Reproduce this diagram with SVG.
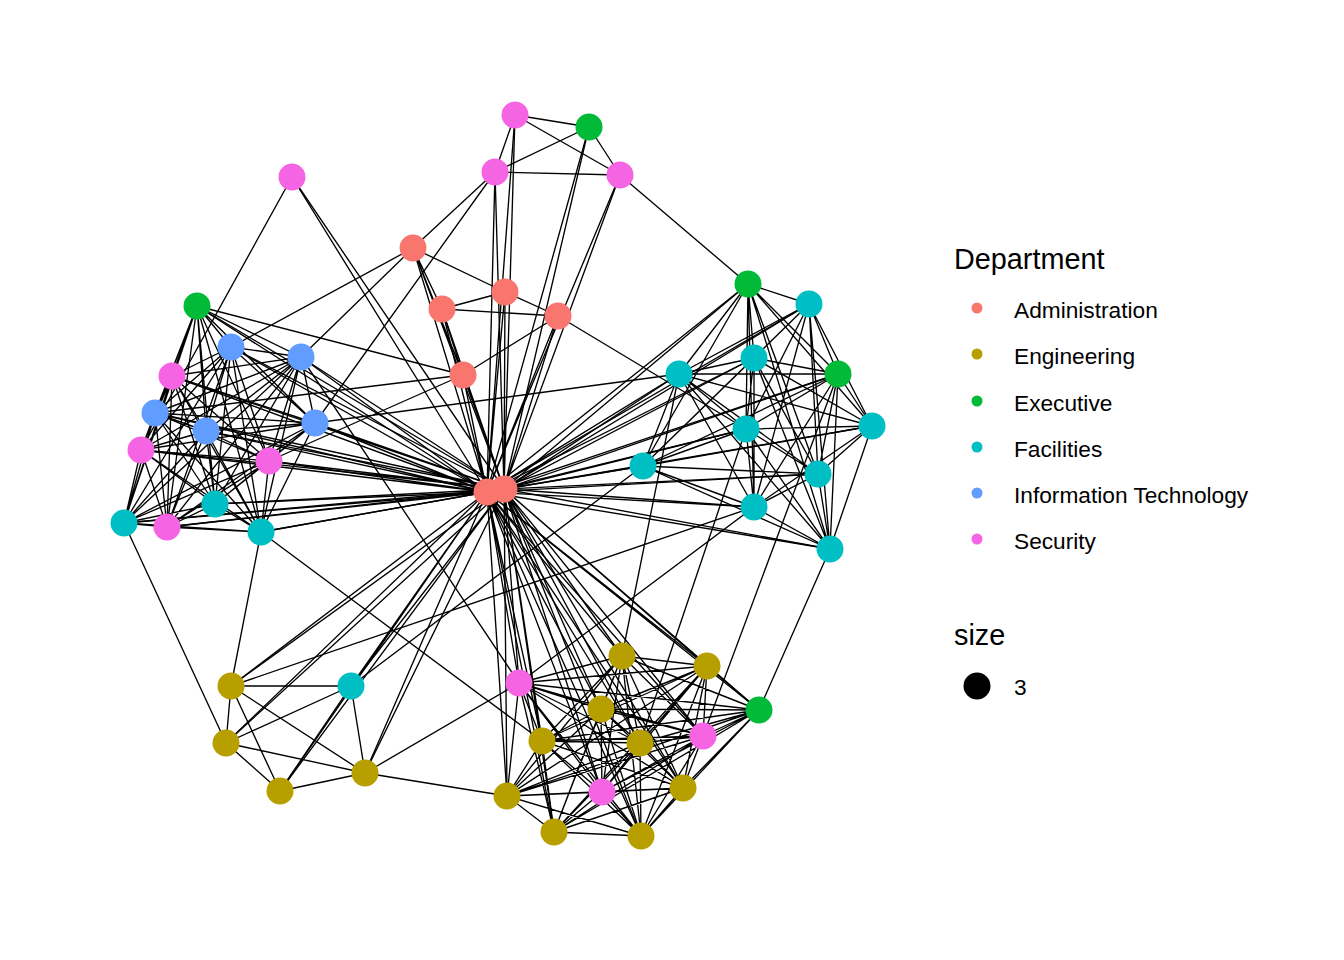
<svg xmlns="http://www.w3.org/2000/svg" width="1344" height="960" viewBox="0 0 1344 960">
<style>
.e{fill:none;stroke:#000;stroke-width:1.35}
.adm{fill:#F8766D}.eng{fill:#B79F00}.exe{fill:#00BA38}.fac{fill:#00BFC4}.it{fill:#619CFF}.sec{fill:#F564E3}
.lt{font-family:"Liberation Sans",Arial,sans-serif;font-size:22.7px;fill:#000}
.tt{font-family:"Liberation Sans",Arial,sans-serif;font-size:28.8px;fill:#000}
</style>
<rect width="1344" height="960" fill="#fff"/>
<g id="connectors">
<path class="e" id="hubA6" d="M487 492L197 306M487 492L231 347M487 492L301 357M487 492L172 376M487 492L155 413M487 492L206 431M487 492L315 423M487 492L141 450M487 492L269 461M487 492L215 504M487 492L124 523M487 492L167 527M487 492L261 532M487 492L515 115M487 492L495 172M487 492L589 127M487 492L620 175M487 492L292 177M487 492L413 248M487 492L442 309M487 492L505 292M487 492L558 316M487 492L463 375M487 492L748 284M487 492L809 304M487 492L679 374M487 492L754 358M487 492L838 374M487 492L746 429M487 492L643 466M487 492L818 474M487 492L754 507M487 492L830 549M487 492L231 686M487 492L351 686M487 492L226 743M487 492L280 791M487 492L365 773M487 492L519 683M487 492L622 656M487 492L707 666M487 492L759 710M487 492L601 709M487 492L542 741M487 492L640 743M487 492L703 736M487 492L507 796M487 492L602 792M487 492L683 788M487 492L554 832M487 492L641 836M487 492L504 489"/>
<path class="e" id="hubA7" d="M504 489L197 306M504 489L231 347M504 489L301 357M504 489L172 376M504 489L155 413M504 489L206 431M504 489L315 423M504 489L141 450M504 489L269 461M504 489L215 504M504 489L124 523M504 489L167 527M504 489L261 532M504 489L515 115M504 489L495 172M504 489L589 127M504 489L620 175M504 489L292 177M504 489L442 309M504 489L505 292M504 489L558 316M504 489L463 375M504 489L748 284M504 489L809 304M504 489L679 374M504 489L754 358M504 489L838 374M504 489L872 426M504 489L746 429M504 489L643 466M504 489L818 474M504 489L754 507M504 489L830 549M504 489L231 686M504 489L351 686M504 489L226 743M504 489L280 791M504 489L365 773M504 489L519 683M504 489L622 656M504 489L707 666M504 489L759 710M504 489L601 709M504 489L542 741M504 489L640 743M504 489L703 736M504 489L507 796M504 489L602 792M504 489L683 788M504 489L554 832M504 489L641 836"/>
<path class="e" id="leftCluster" d="M197 306L231 347M197 306L301 357M197 306L172 376M197 306L155 413M197 306L206 431M197 306L315 423M197 306L141 450M197 306L269 461M197 306L215 504M197 306L124 523M197 306L167 527M197 306L261 532M231 347L301 357M231 347L172 376M231 347L155 413M231 347L206 431M231 347L315 423M231 347L141 450M231 347L269 461M231 347L215 504M231 347L124 523M231 347L167 527M231 347L261 532M301 357L172 376M301 357L155 413M301 357L206 431M301 357L315 423M301 357L141 450M301 357L269 461M301 357L215 504M301 357L124 523M301 357L167 527M301 357L261 532M172 376L155 413M172 376L206 431M172 376L315 423M172 376L141 450M172 376L269 461M172 376L215 504M172 376L124 523M172 376L167 527M172 376L261 532M155 413L206 431M155 413L315 423M155 413L141 450M155 413L269 461M155 413L215 504M155 413L124 523M155 413L167 527M155 413L261 532M206 431L315 423M206 431L141 450M206 431L269 461M206 431L215 504M206 431L124 523M206 431L167 527M206 431L261 532M315 423L141 450M315 423L269 461M315 423L215 504M315 423L124 523M315 423L167 527M315 423L261 532M141 450L269 461M141 450L215 504M141 450L124 523M141 450L167 527M141 450L261 532M269 461L215 504M269 461L124 523M269 461L167 527M269 461L261 532M215 504L124 523M215 504L167 527M215 504L261 532M124 523L167 527M124 523L261 532M167 527L261 532"/>
<path class="e" id="rightCluster" d="M748 284L809 304M748 284L754 358M748 284L679 374M748 284L838 374M748 284L872 426M748 284L746 429M748 284L643 466M748 284L818 474M748 284L754 507M748 284L830 549M809 304L754 358M809 304L679 374M809 304L838 374M809 304L872 426M809 304L746 429M809 304L643 466M809 304L818 474M809 304L754 507M809 304L830 549M754 358L679 374M754 358L838 374M754 358L872 426M754 358L746 429M754 358L643 466M754 358L818 474M754 358L754 507M754 358L830 549M679 374L838 374M679 374L872 426M679 374L746 429M679 374L643 466M679 374L818 474M679 374L754 507M679 374L830 549M838 374L872 426M838 374L746 429M838 374L643 466M838 374L818 474M838 374L754 507M838 374L830 549M872 426L746 429M872 426L643 466M872 426L818 474M872 426L754 507M872 426L830 549M746 429L643 466M746 429L818 474M746 429L754 507M746 429L830 549M643 466L818 474M643 466L754 507M643 466L830 549M818 474L754 507M818 474L830 549M754 507L830 549"/>
<path class="e" id="bottomRightCluster" d="M519 683L622 656M519 683L707 666M519 683L759 710M519 683L601 709M519 683L542 741M519 683L640 743M519 683L703 736M519 683L507 796M519 683L602 792M519 683L683 788M519 683L554 832M519 683L641 836M622 656L707 666M622 656L759 710M622 656L601 709M622 656L542 741M622 656L640 743M622 656L703 736M622 656L507 796M622 656L602 792M622 656L683 788M622 656L554 832M622 656L641 836M707 666L759 710M707 666L601 709M707 666L542 741M707 666L640 743M707 666L703 736M707 666L507 796M707 666L602 792M707 666L683 788M707 666L554 832M707 666L641 836M759 710L601 709M759 710L542 741M759 710L640 743M759 710L703 736M759 710L507 796M759 710L602 792M759 710L683 788M759 710L554 832M759 710L641 836M601 709L542 741M601 709L640 743M601 709L703 736M601 709L507 796M601 709L602 792M601 709L683 788M601 709L554 832M601 709L641 836M542 741L640 743M542 741L703 736M542 741L507 796M542 741L602 792M542 741L683 788M542 741L554 832M542 741L641 836M640 743L703 736M640 743L507 796M640 743L602 792M640 743L683 788M640 743L554 832M640 743L641 836M703 736L507 796M703 736L602 792M703 736L683 788M703 736L554 832M703 736L641 836M507 796L602 792M507 796L683 788M507 796L554 832M507 796L641 836M602 792L683 788M602 792L554 832M602 792L641 836M683 788L554 832M683 788L641 836M554 832L641 836"/>
<path class="e" id="bottomLeftCluster" d="M231 686L351 686M231 686L226 743M231 686L280 791M231 686L365 773M351 686L226 743M351 686L280 791M351 686L365 773M226 743L280 791M226 743L365 773M280 791L365 773"/>
<path class="e" id="topAdmin" d="M515 115L589 127M515 115L620 175M515 115L495 172M589 127L495 172M589 127L620 175M495 172L620 175M620 175L748 284M413 248L495 172M413 248L231 347M413 248L301 357M413 248L442 309M413 248L505 292M413 248L463 375M413 248L504 489M442 309L505 292M442 309L558 316M505 292L558 316M558 316L463 375M442 309L463 375M558 316L746 429M495 172L315 423M292 177L141 450M197 306L463 375M463 375L269 461M463 375L155 413M315 423L679 374"/>
<path class="e" id="crossLinks" d="M124 523L226 743M261 532L231 686M261 532L542 741M301 357L519 683M365 773L519 683M365 773L507 796M351 686L643 466M231 686L754 507M830 549L759 710M838 374L703 736M746 429L640 743M679 374L622 656M754 507L519 683"/>
</g>
<g id="nodes">
<g id="S1"><circle class="sec" cx="515" cy="115" r="13.5"/></g>
<g id="E1"><circle class="exe" cx="589" cy="127" r="13.5"/></g>
<g id="S2"><circle class="sec" cx="495" cy="172" r="13.5"/></g>
<g id="S3"><circle class="sec" cx="620" cy="175" r="13.5"/></g>
<g id="S4"><circle class="sec" cx="292" cy="177" r="13.5"/></g>
<g id="A1"><circle class="adm" cx="413" cy="248" r="13.5"/></g>
<g id="A3"><circle class="adm" cx="505" cy="292" r="13.5"/></g>
<g id="A2"><circle class="adm" cx="442" cy="309" r="13.5"/></g>
<g id="A4"><circle class="adm" cx="558" cy="316" r="13.5"/></g>
<g id="A5"><circle class="adm" cx="463" cy="375" r="13.5"/></g>
<g id="A6"><circle class="adm" cx="487" cy="492" r="13.5"/></g>
<g id="A7"><circle class="adm" cx="504" cy="489" r="13.5"/></g>
<g id="E2"><circle class="exe" cx="197" cy="306" r="13.5"/></g>
<g id="IT1"><circle class="it" cx="231" cy="347" r="13.5"/></g>
<g id="IT2"><circle class="it" cx="301" cy="357" r="13.5"/></g>
<g id="S5"><circle class="sec" cx="172" cy="376" r="13.5"/></g>
<g id="IT3"><circle class="it" cx="155" cy="413" r="13.5"/></g>
<g id="IT4"><circle class="it" cx="206" cy="431" r="13.5"/></g>
<g id="IT5"><circle class="it" cx="315" cy="423" r="13.5"/></g>
<g id="S6"><circle class="sec" cx="141" cy="450" r="13.5"/></g>
<g id="S7"><circle class="sec" cx="269" cy="461" r="13.5"/></g>
<g id="F1"><circle class="fac" cx="215" cy="504" r="13.5"/></g>
<g id="F2"><circle class="fac" cx="124" cy="523" r="13.5"/></g>
<g id="S8"><circle class="sec" cx="167" cy="527" r="13.5"/></g>
<g id="F3"><circle class="fac" cx="261" cy="532" r="13.5"/></g>
<g id="E3"><circle class="exe" cx="748" cy="284" r="13.5"/></g>
<g id="F4"><circle class="fac" cx="809" cy="304" r="13.5"/></g>
<g id="F6"><circle class="fac" cx="754" cy="358" r="13.5"/></g>
<g id="F5"><circle class="fac" cx="679" cy="374" r="13.5"/></g>
<g id="E4"><circle class="exe" cx="838" cy="374" r="13.5"/></g>
<g id="F7"><circle class="fac" cx="872" cy="426" r="13.5"/></g>
<g id="F8"><circle class="fac" cx="746" cy="429" r="13.5"/></g>
<g id="F9"><circle class="fac" cx="643" cy="466" r="13.5"/></g>
<g id="F10"><circle class="fac" cx="818" cy="474" r="13.5"/></g>
<g id="F11"><circle class="fac" cx="754" cy="507" r="13.5"/></g>
<g id="F12"><circle class="fac" cx="830" cy="549" r="13.5"/></g>
<g id="En1"><circle class="eng" cx="231" cy="686" r="13.5"/></g>
<g id="F13"><circle class="fac" cx="351" cy="686" r="13.5"/></g>
<g id="En2"><circle class="eng" cx="226" cy="743" r="13.5"/></g>
<g id="En4"><circle class="eng" cx="365" cy="773" r="13.5"/></g>
<g id="En3"><circle class="eng" cx="280" cy="791" r="13.5"/></g>
<g id="S9"><circle class="sec" cx="519" cy="683" r="13.5"/></g>
<g id="En5"><circle class="eng" cx="622" cy="656" r="13.5"/></g>
<g id="En6"><circle class="eng" cx="707" cy="666" r="13.5"/></g>
<g id="E5"><circle class="exe" cx="759" cy="710" r="13.5"/></g>
<g id="En7"><circle class="eng" cx="601" cy="709" r="13.5"/></g>
<g id="En8"><circle class="eng" cx="542" cy="741" r="13.5"/></g>
<g id="En9"><circle class="eng" cx="640" cy="743" r="13.5"/></g>
<g id="S10"><circle class="sec" cx="703" cy="736" r="13.5"/></g>
<g id="En10"><circle class="eng" cx="507" cy="796" r="13.5"/></g>
<g id="S11"><circle class="sec" cx="602" cy="792" r="13.5"/></g>
<g id="En11"><circle class="eng" cx="683" cy="788" r="13.5"/></g>
<g id="En12"><circle class="eng" cx="554" cy="832" r="13.5"/></g>
<g id="En13"><circle class="eng" cx="641" cy="836" r="13.5"/></g>
</g>
<g id="legend">
<text class="tt" x="954" y="269">Department</text>
<circle class="adm" cx="977" cy="308" r="5.5"/><text class="lt" x="1014" y="318">Administration</text>
<circle class="eng" cx="977" cy="354" r="5.5"/><text class="lt" x="1014" y="364">Engineering</text>
<circle class="exe" cx="977" cy="401" r="5.5"/><text class="lt" x="1014" y="411">Executive</text>
<circle class="fac" cx="977" cy="447" r="5.5"/><text class="lt" x="1014" y="457">Facilities</text>
<circle class="it" cx="977" cy="493" r="5.5"/><text class="lt" x="1014" y="503">Information Technology</text>
<circle class="sec" cx="977" cy="539" r="5.5"/><text class="lt" x="1014" y="549">Security</text>
<text class="tt" x="954" y="645">size</text>
<circle cx="977" cy="686" r="13.5" fill="#000"/><text class="lt" x="1014" y="695">3</text>
</g>
</svg>
